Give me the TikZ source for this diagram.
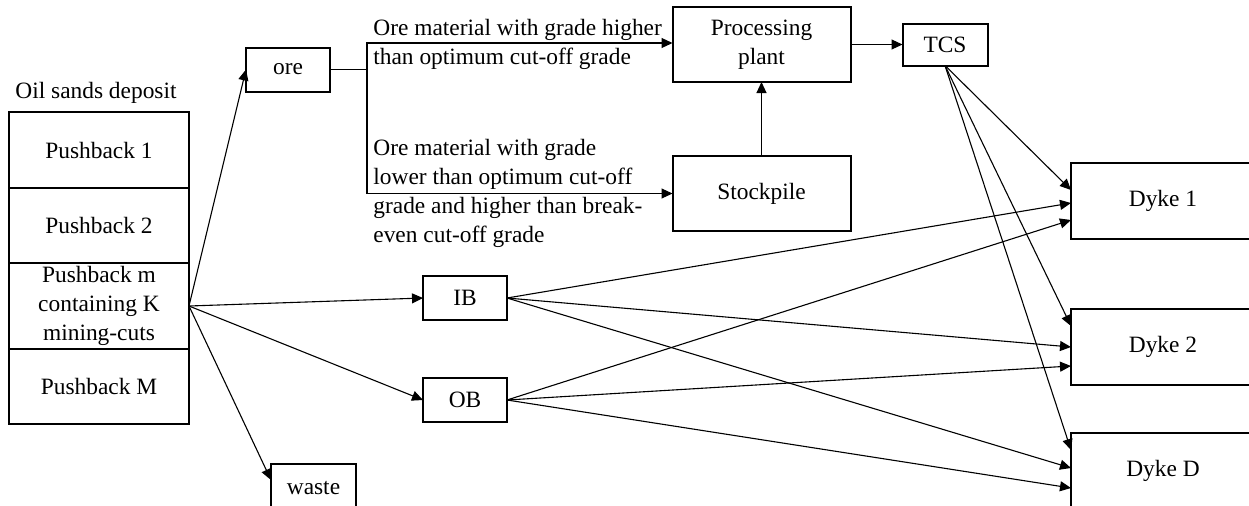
\documentclass[tikz,border=0pt]{standalone}
\usepackage{fontspec}
\setmainfont{Liberation Serif}
\usetikzlibrary{positioning,calc,arrows.meta}

\begin{document}
\begin{tikzpicture}[
      x=0.5pt, y=-0.5pt,
      >={Triangle[length=5.5pt,width=5pt]}, node distance=20pt,
      font=\fontsize{11.7}{14.5}\selectfont,
      box/.style={draw,line width=1pt,align=center,inner sep=1pt,outer sep=0pt},
      pb/.style={box,minimum width=90pt,minimum height=37.5pt},
      big/.style={box,minimum width=89pt,minimum height=37.5pt},
      small/.style={box,minimum width=42pt,minimum height=22pt},
      lbl/.style={align=left,inner sep=1pt,anchor=west},
      flow/.style={->,line width=0.55pt},
    ]
    \useasboundingbox (0,0) rectangle (1249,505);
    \clip (0,0) rectangle (1249,505);
    % deposit
    \node[pb,minimum height=38pt] (pb1) at (99,150) {Pushback 1};
    \node[pb, below=0pt of pb1] (pb2) {Pushback 2};
    \node[pb, below=0pt of pb2, minimum height=43pt] (pbm) {Pushback m\\containing K\\mining-cuts};
    \node[pb, below=0pt of pbm] (pbM) {Pushback M};
    \node[anchor=south west, inner sep=1pt] (title) at ([xshift=2pt,yshift=3pt]pb1.north west) {Oil sands deposit};
    % destinations
    \node[small] (ore) at (288,69.5) {ore};
    \node[small] (ib) at (465,298) {IB};
    \node[small, below=29pt of ib] (ob) {OB};
    \node[small, minimum width=42.5pt, minimum height=24pt] (waste) at (313.5,488) {waste};
    \node[big] (plant) at (761.5,44.5) {Processing\\plant};
    \node[big, below=37pt of plant] (stock) {Stockpile};
    \node[small, minimum width=42.5pt, minimum height=21pt, right=26pt of plant] (tcs) {TCS};
    \node[box, minimum width=92pt, minimum height=38pt] (dyk1) at (1163,201) {Dyke 1};
    \node[box, minimum width=92pt, minimum height=38pt] (dyk2) at (1163,347) {Dyke 2};
    \node[box, minimum width=92pt, minimum height=38pt] (dykD) at (1163,471) {Dyke D};
    % ore split
    \coordinate (split) at ($(ore.east)+(37,0)$);
    \draw[line width=0.55pt] (ore.east) -- (split);
    \draw[flow] (split) |- ([yshift=0.75pt]plant.west);
    \draw[flow] (split) |- (stock.west);
    \node[lbl] (hilbl) at ([xshift=2pt]split |- plant.west) {Ore material with grade higher\\than optimum cut-off grade};
    \node[lbl] (lolbl) at ([xshift=2pt]split |- stock.west) {Ore material with grade\\lower than optimum cut-off\\grade and higher than break-\\even cut-off grade};
    \draw[flow] (stock) -- (plant);
    \draw[flow] (plant) -- (tcs);
    % from the pushback
    \draw[flow] (pbm.east) -- (ore.west);
    \draw[flow] (pbm.east) -- (ib.west);
    \draw[flow] (pbm.east) -- (ob.west);
    \draw[flow] (pbm.east) -- ([yshift=4pt]waste.west);
    % to the dykes
    \draw[flow] (tcs.south) -- ([yshift=5.5pt]dyk1.west);
    \draw[flow] (tcs.south) -- ([yshift=10.5pt]dyk2.west);
    \draw[flow] (tcs.south) -- ([yshift=10.5pt]dykD.west);
    \draw[flow] (ib.east) -- ([yshift=-1pt]dyk1.west);
    \draw[flow] (ib.east) -- (dyk2.west);
    \draw[flow] (ib.east) -- ([yshift=1.5pt]dykD.west);
    \draw[flow] (ob.east) -- ([yshift=-9.5pt]dyk1.west);
    \draw[flow] (ob.east) -- ([yshift=-9.5pt]dyk2.west);
    \draw[flow] (ob.east) -- ([yshift=-8.5pt]dykD.west);
  \end{tikzpicture}
\end{document}
